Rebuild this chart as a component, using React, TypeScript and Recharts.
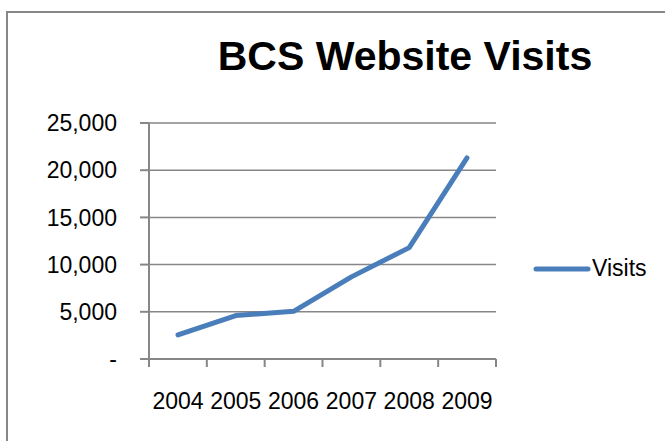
import { LineChart, Line, XAxis, YAxis, CartesianGrid, Legend } from "recharts";

// 年ごとのデータ
const years = ["2004", "2005", "2006", "2007", "2008", "2009"];
const visits = [2550, 4600, 5050, 8700, 11800, 21300];
const yTicks = [0, 5000, 10000, 15000, 20000, 25000];
const boundaryTicks = [0, 1, 2, 3, 4, 5, 6];

// pos はカテゴリの中心位置（境界目盛り用の数値軸）
const data = years.map((year, i) => ({ year, pos: i + 0.5, Visits: visits[i] }));

const font = "'Liberation Sans', Arial, sans-serif";
const gray = "#878787";
const blue = "#4a7ebb";

// Excel風の凡例（長い線＋ラベル）
function LegendContent(props: any) {
  const items = props.payload || [];
  return (
    <div>
      {items.map((p: any) => (
        <div key={p.value} style={{ display: "flex", alignItems: "center" }}>
          <svg width={58} height={10}>
            <line x1={3} y1={5} x2={55} y2={5} stroke={p.color} strokeWidth={5} strokeLinecap="round" />
          </svg>
          <span style={{ fontFamily: font, fontSize: 23, color: "#000", marginLeft: 1 }}>{p.value}</span>
        </div>
      ))}
    </div>
  );
}

export default function App() {
  return (
    <div style={{ position: "fixed", left: 0, top: 0, width: 665, height: 441, overflow: "hidden", background: "#fff" }}>
      {/* グラフの枠 */}
      <div style={{ position: "absolute", left: 6, top: 11, width: 700, height: 470, border: `2px solid ${gray}` }} />

      {/* タイトル */}
      <div
        style={{
          position: "absolute", left: 200, width: 410, top: 33, textAlign: "center",
          fontFamily: font, fontWeight: "bold", fontSize: 41, color: "#000", lineHeight: "46px"
        }}
      >
        BCS Website Visits
      </div>

      <div style={{ position: "absolute", left: 0, top: 0 }}>
        {/* 凡例の幅(130)が右余白に加算されるので right は 169-130 */}
        <LineChart width={665} height={441} data={data} margin={{ top: 123, right: 39, bottom: 0, left: 0 }}>
          <CartesianGrid horizontal vertical={false} stroke={gray} strokeWidth={1.5} />
          {/* 目盛り線だけの軸（カテゴリ境界） */}
          <XAxis
            xAxisId={0}
            dataKey="pos"
            type="number"
            domain={[0, 6]}
            allowDataOverflow
            ticks={boundaryTicks}
            height={1}
            axisLine={{ stroke: gray, strokeWidth: 2 }}
            tickLine={{ stroke: gray, strokeWidth: 2 }}
            tickSize={8}
            tickFormatter={() => ""}
          />
          {/* 年ラベルの軸 */}
          <XAxis
            xAxisId="label"
            dataKey="year"
            height={81}
            padding={{ left: 29, right: 29 }}
            axisLine={false}
            tickLine={false}
            tickSize={0}
            tickMargin={33}
            interval={0}
            tick={{ fill: "#000", fontFamily: font, fontSize: 23 }}
          />
          <YAxis
            width={149}
            domain={[0, 25000]}
            ticks={yTicks}
            axisLine={{ stroke: gray, strokeWidth: 2 }}
            tickLine={{ stroke: gray, strokeWidth: 2 }}
            tickSize={9}
            tickMargin={23}
            tick={{ fill: "#000", fontFamily: font, fontSize: 23 }}
            tickFormatter={(v: number) => (v === 0 ? "-" : v.toLocaleString("en-US"))}
          />
          <Legend
            layout="horizontal"
            align="right"
            verticalAlign="middle"
            content={<LegendContent />}
            wrapperStyle={{ left: 533, top: 255, width: 130 }}
          />
          <Line
            xAxisId="label"
            type="linear"
            dataKey="Visits"
            stroke={blue}
            strokeWidth={5}
            strokeLinecap="round"
            strokeLinejoin="round"
            dot={false}
            isAnimationActive={false}
          />
        </LineChart>
      </div>
    </div>
  );
}
